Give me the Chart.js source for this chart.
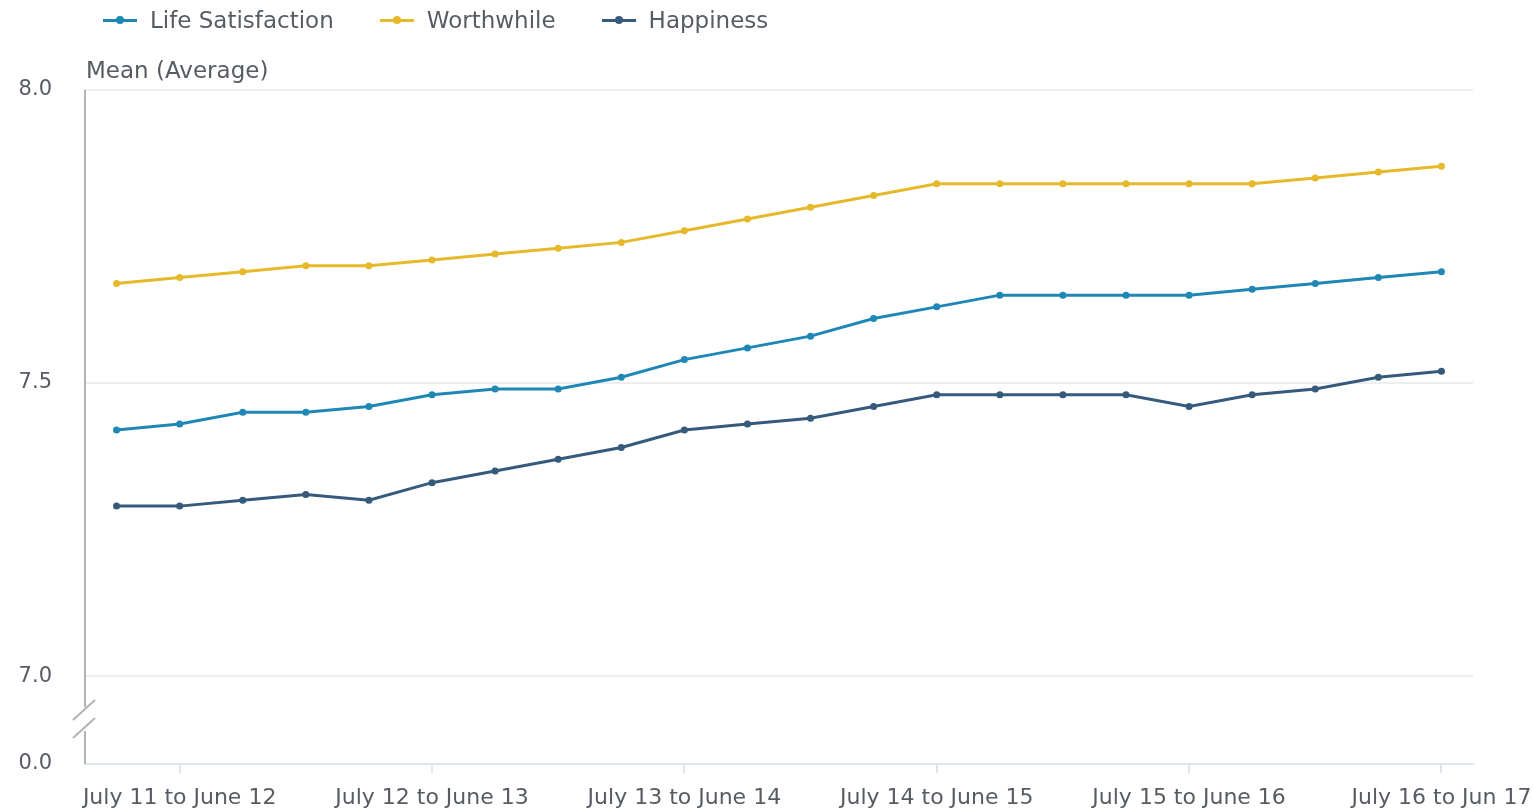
<!DOCTYPE html>
<html>
<head>
<meta charset="utf-8">
<script src="https://cdn.jsdelivr.net/npm/chart.js@4"></script>
<style>
  html, body { margin: 0; padding: 0; background: #fff; }
  body { width: 1533px; height: 811px; position: relative; overflow: hidden; font-family: "DejaVu Sans", sans-serif; }
  #wrap { position: absolute; left: 0; top: 0; width: 1533px; height: 811px; }
  #legend { position: absolute; left: 103px; top: 7px; display: flex; font-size: 23px; color: #575c63; }
  .item { display: flex; align-items: center; margin-right: 46px; }
  .swatch { position: relative; width: 34px; height: 3px; margin-right: 13px; }
  .swatch i { position: absolute; left: 13px; top: -2.5px; width: 8px; height: 8px; border-radius: 50%; }
  #ytitle { position: absolute; left: 86px; top: 57px; font-size: 23px; color: #575c63; }
</style>
</head>
<body>
<div id="wrap"><canvas id="chart" width="1533" height="811"></canvas></div>
<div id="legend"></div>
<div id="ytitle">Mean (Average)</div>
<script>
const periods = [
  'April 11 to March 12', 'July 11 to June 12', 'Oct 11 to Sept 12', 'Jan 12 to Dec 12',
  'April 12 to March 13', 'July 12 to June 13', 'Oct 12 to Sept 13', 'Jan 13 to Dec 13',
  'April 13 to March 14', 'July 13 to June 14', 'Oct 13 to Sept 14', 'Jan 14 to Dec 14',
  'April 14 to March 15', 'July 14 to June 15', 'Oct 14 to Sept 15', 'Jan 15 to Dec 15',
  'April 15 to March 16', 'July 15 to June 16', 'Oct 15 to Sept 16', 'Jan 16 to Dec 16',
  'April 16 to March 17', 'July 16 to Jun 17'
];
const lifeSatisfaction = [7.42, 7.43, 7.45, 7.45, 7.46, 7.48, 7.49, 7.49, 7.51, 7.54, 7.56, 7.58, 7.61, 7.63, 7.65, 7.65, 7.65, 7.65, 7.66, 7.67, 7.68, 7.69];
const worthwhile = [7.67, 7.68, 7.69, 7.70, 7.70, 7.71, 7.72, 7.73, 7.74, 7.76, 7.78, 7.80, 7.82, 7.84, 7.84, 7.84, 7.84, 7.84, 7.84, 7.85, 7.86, 7.87];
const happiness = [7.29, 7.29, 7.30, 7.31, 7.30, 7.33, 7.35, 7.37, 7.39, 7.42, 7.43, 7.44, 7.46, 7.48, 7.48, 7.48, 7.48, 7.46, 7.48, 7.49, 7.51, 7.52];
const yTicks = [6.85, 7.0, 7.5, 8.0];   // 6.85 is the broken-axis stand-in for 0.0

const series = [
  { label: 'Life Satisfaction', data: lifeSatisfaction, color: '#1e87b6' },
  { label: 'Worthwhile', data: worthwhile, color: '#e6b92b' },
  { label: 'Happiness', data: happiness, color: '#355a7c' }
];

const legend = document.getElementById('legend');
series.forEach(s => {
  const el = document.createElement('div');
  el.className = 'item';
  el.innerHTML = `<span class="swatch" style="background:${s.color}"><i style="background:${s.color}"></i></span>${s.label}`;
  legend.appendChild(el);
});

const axisBreak = {
  id: 'axisBreak',
  afterDraw(chart) {
    const ctx = chart.ctx;
    const y = chart.scales.y;
    const x0 = chart.chartArea.left;
    const top = y.getPixelForValue(8.0);
    const bottom = y.getPixelForValue(6.85);
    ctx.save();
    ctx.strokeStyle = '#b3b3b3';
    ctx.lineWidth = 2;
    ctx.beginPath();
    ctx.moveTo(x0, top);
    ctx.lineTo(x0, 707);
    ctx.moveTo(x0, 731);
    ctx.lineTo(x0, bottom);
    ctx.moveTo(x0 - 12, 720);
    ctx.lineTo(x0 + 10, 700);
    ctx.moveTo(x0 - 12, 738);
    ctx.lineTo(x0 + 10, 718);
    ctx.stroke();
    ctx.restore();
  }
};

new Chart(document.getElementById('chart'), {
  type: 'line',
  data: {
    labels: periods,
    datasets: series.map(s => ({
      label: s.label,
      data: s.data,
      borderColor: s.color,
      backgroundColor: s.color,
      borderWidth: 3,
      pointRadius: 3.5,
      pointBorderWidth: 0,
      tension: 0
    }))
  },
  options: {
    responsive: false,
    animation: false,
    layout: { padding: { top: 90, right: 60, left: 0, bottom: 0 } },
    plugins: { legend: { display: false }, tooltip: { enabled: false } },
    scales: {
      x: {
        offset: true,
        border: { color: '#dfe5ef', width: 2 },
        grid: { drawOnChartArea: false, drawTicks: true, tickLength: 9, color: '#dfe5ef', lineWidth: 2 },
        ticks: {
          autoSkip: false, maxRotation: 0, padding: 12,
          color: '#575c63', font: { family: 'DejaVu Sans', size: 22 },
          callback: (v, i) => (i % 4 === 1 ? periods[i] : null)
        },
        afterFit: s => { s.height = 47; s.paddingLeft = 0; s.paddingRight = 0; }
      },
      y: {
        min: 6.85, max: 8.0,
        afterBuildTicks: s => { s.ticks = yTicks.map(v => ({ value: v })); },
        border: { display: false },
        grid: { drawTicks: false, lineWidth: 2, color: c => (c.tick && c.tick.value < 7 ? 'rgba(0,0,0,0)' : '#eceef2') },
        ticks: {
          padding: 33, color: '#575c63', font: { family: 'DejaVu Sans', size: 21 },
          callback: v => (v < 7 ? '0.0' : v.toFixed(1))
        },
        afterFit: s => { s.width = 85; s.paddingTop = 0; s.paddingBottom = 0; }
      }
    }
  },
  plugins: [axisBreak]
});
</script>
</body>
</html>
